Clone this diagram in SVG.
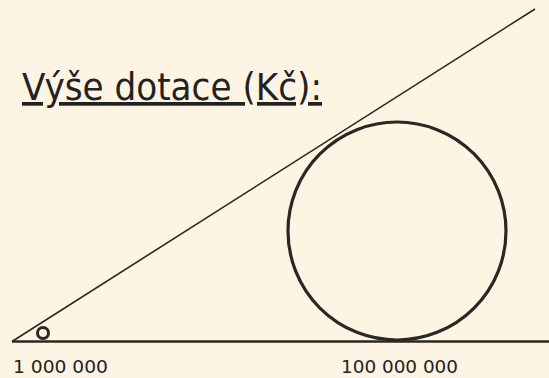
<svg xmlns="http://www.w3.org/2000/svg" width="549" height="378" viewBox="0 0 549 378">
<style>
.t{font-family:"DejaVu Sans Condensed","DejaVu Sans","Liberation Sans",sans-serif;fill:#222}
.ln{stroke:#2a2822;fill:none}
</style>
<rect width="549" height="378" fill="#fdf4e3"/>
<g id="title"><text class="t" x="22" y="100" font-size="37" textLength="300" lengthAdjust="spacingAndGlyphs" text-decoration="underline">Výše dotace (Kč):</text></g>
<g id="connectors">
<line class="ln" x1="12" y1="341.5" x2="549" y2="341.5" stroke-width="2.5"/>
<line class="ln" x1="12" y1="341.5" x2="535" y2="9" stroke-width="1.6"/>
</g>
<g id="small"><circle class="ln" cx="43" cy="333" r="5.5" stroke-width="3"/></g>
<g id="big"><circle class="ln" cx="397" cy="231" r="109" stroke-width="3.2"/></g>
<g id="labels">
<text class="t" x="13" y="373" font-size="18" textLength="95" lengthAdjust="spacingAndGlyphs">1 000 000</text>
<text class="t" x="341" y="373" font-size="18" textLength="117" lengthAdjust="spacingAndGlyphs">100 000 000</text>
</g>
</svg>
